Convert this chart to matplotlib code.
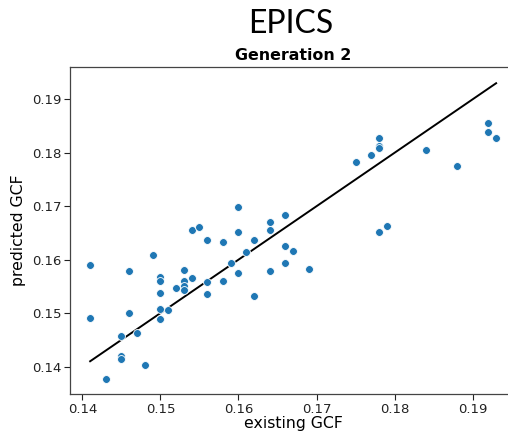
import matplotlib
matplotlib.use("Agg")
import matplotlib.pyplot as plt
import numpy as np

# existing vs predicted GCF, generation 2
existing_gcf = [
    0.141, 0.141, 0.143, 0.145, 0.145, 0.145, 0.146, 0.146, 0.147, 0.148,
    0.149, 0.150, 0.150, 0.150, 0.150, 0.150, 0.151, 0.152, 0.153, 0.153,
    0.153, 0.153, 0.154, 0.154, 0.155, 0.156, 0.156, 0.156, 0.158, 0.158,
    0.159, 0.160, 0.160, 0.160, 0.161, 0.162, 0.162, 0.164, 0.164, 0.164,
    0.166, 0.166, 0.166, 0.167, 0.169, 0.175, 0.177, 0.178, 0.178, 0.178,
    0.178, 0.179, 0.184, 0.188, 0.192, 0.192, 0.193,
]
predicted_gcf = [
    0.1590, 0.1490, 0.1377, 0.1457, 0.1420, 0.1415, 0.1579, 0.1501, 0.1463, 0.1403,
    0.1609, 0.1567, 0.1561, 0.1538, 0.1508, 0.1489, 0.1506, 0.1547, 0.1581, 0.1560,
    0.1551, 0.1543, 0.1655, 0.1566, 0.1661, 0.1637, 0.1558, 0.1536, 0.1633, 0.1560,
    0.1593, 0.1698, 0.1652, 0.1576, 0.1615, 0.1637, 0.1532, 0.1671, 0.1655, 0.1579,
    0.1683, 0.1626, 0.1593, 0.1616, 0.1583, 0.1782, 0.1795, 0.1827, 0.1813, 0.1809,
    0.1652, 0.1663, 0.1805, 0.1775, 0.1855, 0.1839, 0.1828,
]

x_ticks = [0.14, 0.15, 0.16, 0.17, 0.18, 0.19]
y_ticks = [0.14, 0.15, 0.16, 0.17, 0.18, 0.19]

fig = plt.figure(figsize=(5.08, 4.33), dpi=100)
ax = fig.add_axes([0.1378, 0.0901, 0.878, 0.7545])

ax.scatter(existing_gcf, predicted_gcf, s=32, color="#1f77b4",
           edgecolor="white", linewidth=0.6, zorder=3)

# identity line across the range of existing values
lo, hi = min(existing_gcf), max(existing_gcf)
ax.plot([lo, hi], [lo, hi], color="black", linewidth=1.4, zorder=2)

ax.set_xlim(0.13842, 0.19555)
ax.set_ylim(0.13488, 0.19598)
ax.set_xticks(x_ticks)
ax.set_yticks(y_ticks)
ax.set_xticklabels([f"{t:.2f}" for t in x_ticks])
ax.set_yticklabels([f"{t:.2f}" for t in y_ticks])
ax.tick_params(labelsize=9.5, length=4.5, width=0.8, colors="#222222", pad=1.8)
for sp in ax.spines.values():
    sp.set_color("#444444")
    sp.set_linewidth(0.9)

ax.set_xlabel("existing GCF", fontsize=11.3, labelpad=0.5)
ax.set_ylabel("predicted GCF", fontsize=11.3, labelpad=4)
ax.set_title("Generation 2", fontsize=11.4, fontweight="bold", pad=5)

fig.text(291 / 508, 1 - 33 / 433, "EPICS", family="Lato", fontsize=23,
         ha="center", va="baseline")

fig.savefig("out.png", dpi=100)
